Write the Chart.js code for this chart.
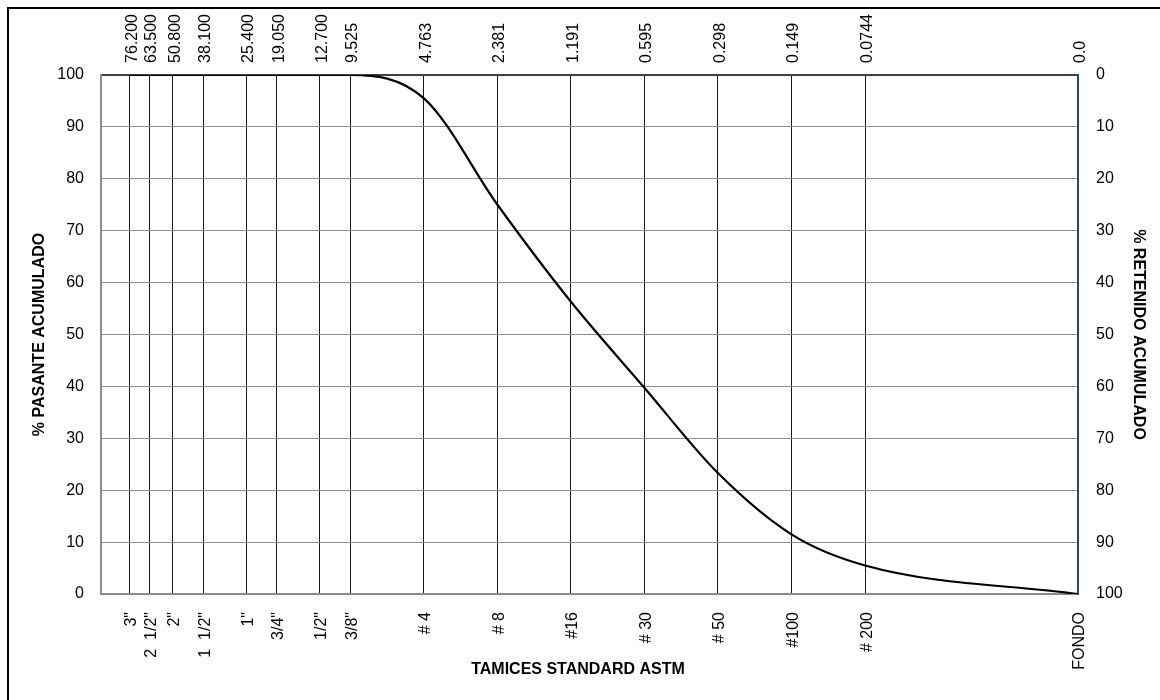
<!DOCTYPE html>
<html>
<head>
<meta charset="utf-8">
<title>Curva granulométrica</title>
<script src="https://cdn.jsdelivr.net/npm/chart.js@4/dist/chart.umd.min.js"></script>
<style>
  html, body { margin: 0; padding: 0; background: #ffffff; }
  canvas { display: block; }
</style>
</head>
<body>
<canvas id="curva" width="1160" height="700"></canvas>
<script>
// Abertura de cada tamiz (mm); FONDO se ubica en el extremo del eje (0.01)
const sieveSizes = [76.2, 63.5, 50.8, 38.1, 25.4, 19.05, 12.7, 9.525, 4.763, 2.381, 1.191, 0.595, 0.298, 0.149, 0.0744, 0.01];
// Rótulos superiores: abertura en mm
const sizeLabels = ['76.200', '63.500', '50.800', '38.100', '25.400', '19.050', '12.700', '9.525', '4.763', '2.381', '1.191', '0.595', '0.298', '0.149', '0.0744', '0.0'];
// Rótulos inferiores: designación ASTM
const sieveNames = ['3"', '2  1/2"', '2"', '1  1/2"', '1"', '3/4"', '1/2"', '3/8"', '# 4', '# 8', '#16', '# 30', '# 50', '#100', '# 200', 'FONDO'];
// % que pasa acumulado en cada tamiz
const percentPassing = [100, 100, 100, 100, 100, 100, 100, 100, 95.5, 75.0, 56.3, 39.7, 23.3, 11.5, 5.5, 0];
const xAxisTitle = 'TAMICES STANDARD ASTM';

const FONT = "'Liberation Sans', Arial, Helvetica, sans-serif";
Chart.defaults.font.family = FONT;
Chart.defaults.font.size = 16;
Chart.defaults.color = '#000000';

// Marco exterior y título del eje de tamices, centrado en todo el gráfico
const frame = {
  id: 'frame',
  afterDraw(chart) {
    const c = chart.ctx;
    c.save();
    c.strokeStyle = '#000000';
    c.lineWidth = 2;
    c.strokeRect(8, 8, 1300, 900);
    c.fillStyle = '#000000';
    c.font = 'bold 16px ' + FONT;
    c.textAlign = 'center';
    c.textBaseline = 'middle';
    c.fillText(xAxisTitle, chart.width / 2 - 2, 670);
    c.restore();
  }
};

const sieveTicks = scale => { scale.ticks = sieveSizes.map(v => ({ value: v })); };
const lastIdx = sieveSizes.length - 1;

new Chart(document.getElementById('curva'), {
  type: 'line',
  data: {
    datasets: [{
      data: sieveSizes.map((x, i) => ({ x, y: percentPassing[i] })),
      xAxisID: 'x',
      yAxisID: 'y',
      borderColor: '#000000',
      borderWidth: 2.2,
      pointRadius: 0,
      cubicInterpolationMode: 'monotone',
      fill: false
    }]
  },
  options: {
    responsive: false,
    animation: false,
    devicePixelRatio: 1,
    layout: { padding: 0 },
    plugins: {
      legend: { display: false },
      tooltip: { enabled: false }
    },
    scales: {
      x: {
        type: 'logarithmic',
        position: 'bottom',
        min: 0.01,
        max: 100,
        reverse: true,
        afterBuildTicks: sieveTicks,
        afterFit: s => { s.height = 106; },
        ticks: {
          autoSkip: false,
          minRotation: 90,
          maxRotation: 90,
          padding: 18,
          labelOffset: 2,
          callback: (v, i) => sieveNames[i]
        },
        grid: { display: false, drawTicks: false },
        border: { color: '#8c8c8c', width: 2 }
      },
      xTop: {
        type: 'logarithmic',
        position: 'top',
        min: 0.01,
        max: 100,
        reverse: true,
        afterBuildTicks: sieveTicks,
        afterFit: s => { s.height = 75; },
        ticks: {
          autoSkip: false,
          minRotation: 90,
          maxRotation: 90,
          padding: 12,
          labelOffset: 21.5,
          callback: (v, i) => sizeLabels[i]
        },
        grid: {
          drawTicks: false,
          lineWidth: 1,
          color: c => (c.index === lastIdx ? '#1f4e79' : '#1a1a1a')
        },
        border: { color: '#404040', width: 2 }
      },
      y: {
        position: 'left',
        min: 0,
        max: 100,
        afterFit: s => { s.width = 101; },
        ticks: { stepSize: 10, padding: 17 },
        grid: {
          drawTicks: false,
          lineWidth: 1,
          color: c => (c.tick && c.tick.value === 100 ? '#404040' : '#8c8c8c')
        },
        border: { color: '#8c8c8c', width: 2 },
        title: {
          display: true,
          text: '% PASANTE ACUMULADO',
          font: { size: 16, weight: 'bold' },
          padding: { top: 30, bottom: 0 }
        }
      },
      y2: {
        position: 'right',
        min: 0,
        max: 100,
        reverse: true,
        afterFit: s => { s.width = 82; },
        ticks: { stepSize: 10, padding: 18 },
        grid: { display: false, drawTicks: false },
        border: { color: '#1f4e79', width: 2 },
        title: {
          display: true,
          text: '% RETENIDO ACUMULADO',
          font: { size: 16, weight: 'bold' },
          padding: { top: 12.4, bottom: 0 }
        }
      }
    }
  },
  plugins: [frame]
});
</script>
</body>
</html>
